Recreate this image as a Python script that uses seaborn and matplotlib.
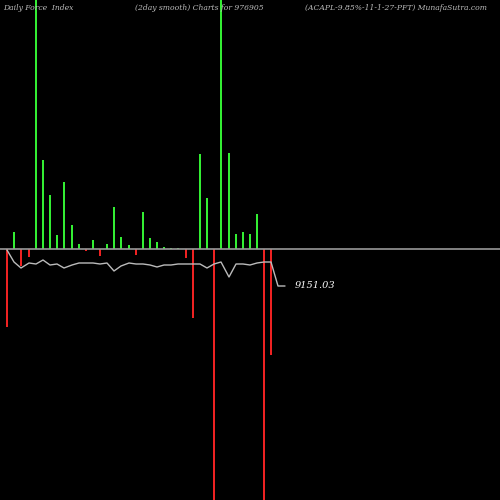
import numpy as np
import matplotlib
matplotlib.use("Agg")
import matplotlib.pyplot as plt
import seaborn as sns

# bar tops in picture pixels (zero line at 249)
bar_x = [7, 14, 21, 29, 36, 43, 50, 57, 64, 72, 79, 86, 93, 100, 107, 114, 121, 129, 136,
         143, 150, 157, 164, 171, 178, 186, 193, 200, 207, 214, 221, 229, 236, 243, 250, 257, 264, 271]
bar_end = [327, 232, 266, 257, 0, 160, 195, 235, 182, 225, 244, 251, 240, 256, 244, 207, 237, 245, 255,
           212, 238, 242, 247, 248, 248, 258, 318, 154, 198, 500, 0, 153, 234, 232, 234, 214, 500, 355]
line_x = [7, 14, 21, 29, 36, 43, 50, 57, 64, 72, 79, 86, 93, 100, 107, 114, 121, 129, 136,
          143, 150, 157, 164, 171, 178, 186, 193, 200, 207, 214, 221, 229, 236, 243, 250, 257, 264, 271, 278, 285]
line_y = [250, 262, 268, 263, 264, 260, 265, 264, 268, 265, 263, 263, 263, 264, 263, 271, 266, 263, 264,
          264, 265, 267, 265, 265, 264, 264, 264, 264, 268, 264, 262, 277, 264, 264, 265, 263, 262, 262, 286, 286]
last_label = "9151.03"
zero = 249

sns.set_style("dark")
fig = plt.figure(figsize=(5, 5), dpi=100, facecolor="black")
ax = fig.add_axes([0, 0, 1, 1], facecolor="black")

heights = [zero - e for e in bar_end]
colors = ["#33ee33" if h > 0 else "#ee2222" for h in heights]
ax.bar(bar_x, heights, width=2.2, color=colors, linewidth=0)
ax.axhline(0, color="#999999", lw=1.2)
sns.lineplot(x=line_x, y=[zero - v for v in line_y], ax=ax, color="#bbbbbb", lw=1, estimator=None)
ax.text(295, zero - 286, last_label, color="white", fontsize=7, family="DejaVu Serif",
        style="italic", va="center")

ax.set_xlim(0, 500)
ax.set_ylim(zero - 500, zero)
ax.axis("off")

kw = dict(color="#bbbbbb", fontsize=5.5, family="DejaVu Serif", style="italic", va="center")
ax.text(3, zero - 8, "Daily Force  Index", **kw)
ax.text(135, zero - 8, "(2day smooth) Charts for 976905", **kw)
ax.text(305, zero - 8, "(ACAPL-9.85%-11-1-27-PFT) MunafaSutra.com", **kw)

fig.savefig("out.png", dpi=100, facecolor="black")
